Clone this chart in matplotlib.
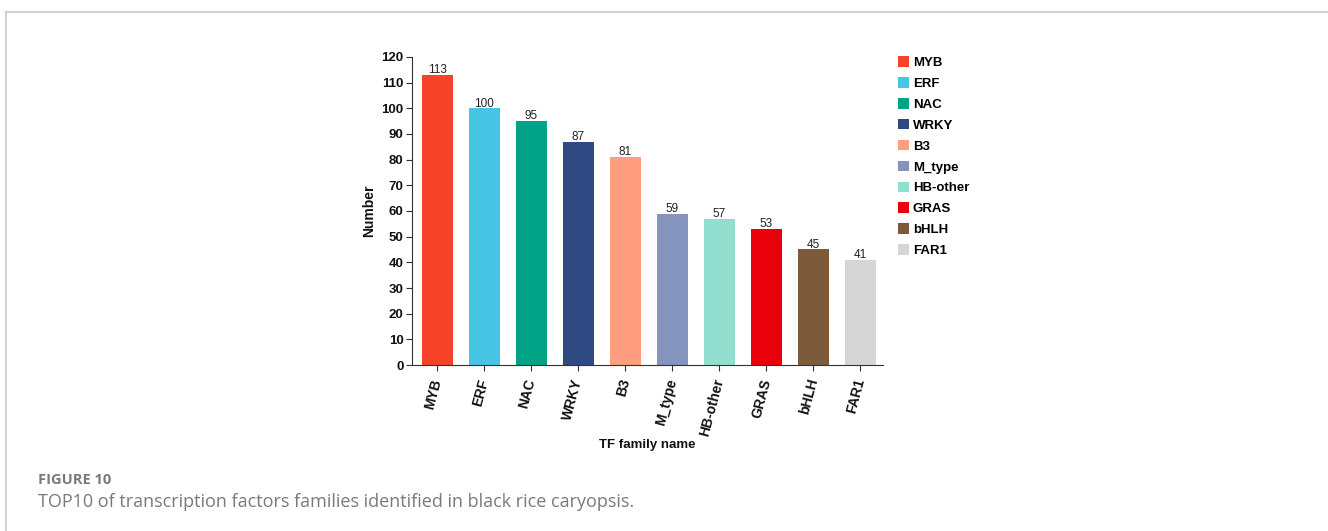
import matplotlib.pyplot as plt
from matplotlib.lines import Line2D
from matplotlib.patches import Patch

plt.rcParams["font.family"] = ["Liberation Sans", "DejaVu Sans"]

# Data
families = ["MYB", "ERF", "NAC", "WRKY", "B3", "M_type", "HB-other", "GRAS", "bHLH", "FAR1"]
counts = [113, 100, 95, 87, 81, 59, 57, 53, 45, 41]
colors = ["#F5432A", "#45C4E3", "#00A386", "#2F4A82", "#FF9E7E",
          "#8494BC", "#93DFCF", "#E8000B", "#7D5A3C", "#D6D6D6"]
yticks = list(range(0, 121, 10))

text_color = "#111111"
caption_color = "#7A7A7A"

fig = plt.figure(figsize=(13.28, 5.31), dpi=100, facecolor="white")
ax = fig.add_axes([0.3102, 0.3126, 0.3547, 0.5801])

x = range(len(families))
ax.bar(x, counts, width=0.66, color=colors)
for xi, v in zip(x, counts):
    ax.text(xi, v - 0.5, str(v), ha="center", va="bottom", fontsize=8.5, color="#222222")

ax.set_xlim(-0.54, 9.48)
ax.set_ylim(0, 120)
ax.set_yticks(yticks)
ax.set_xticks(list(x))
ax.set_xticklabels(families, rotation=75, ha="right", va="center",
                   rotation_mode="anchor", fontsize=10, fontweight="bold")
for lab in ax.get_yticklabels():
    lab.set_fontweight("bold")
    lab.set_fontsize(9.5)
ax.tick_params(axis="both", length=4, width=0.8, color="#333333", labelcolor=text_color)
ax.tick_params(axis="x", pad=6)
ax.tick_params(axis="y", pad=2)
for s in ["top", "right"]:
    ax.spines[s].set_visible(False)
for s in ["left", "bottom"]:
    ax.spines[s].set_color("#333333")
    ax.spines[s].set_linewidth(0.8)

ax.set_ylabel("Number", fontsize=10, fontweight="bold", color=text_color, labelpad=4)
ax.set_xlabel("TF family name", fontsize=9.5, fontweight="bold", color=text_color, labelpad=1)

handles = [Patch(facecolor=c, edgecolor="none") for c in colors]
fig.legend(handles, families, loc="upper left", bbox_to_anchor=(0.676, 0.894),
           frameon=False, prop={"weight": "bold", "size": 9.5},
           handlelength=0.85, handleheight=0.85, handletextpad=0.3,
           labelspacing=0.61, borderpad=0, borderaxespad=0)

# Page frame
fig.add_artist(Line2D([6 / 1328, 1], [1 - 12 / 531, 1 - 12 / 531],
                      transform=fig.transFigure, color="#C8C8C8", lw=1.2))
fig.add_artist(Line2D([6 / 1328, 6 / 1328], [0, 1 - 12 / 531],
                      transform=fig.transFigure, color="#C8C8C8", lw=1.2))

fig.text(38 / 1328, 1 - 484 / 531, "FIGURE 10", fontsize=10.5, fontweight="bold",
         color=caption_color, family=["Open Sans", "DejaVu Sans"], va="baseline")
fig.text(38 / 1328, 1 - 507 / 531,
         "TOP10 of transcription factors families identified in black rice caryopsis.",
         fontsize=13, color=caption_color, family=["Open Sans", "DejaVu Sans"],
         va="baseline")

fig.savefig("out.png", dpi=100)
